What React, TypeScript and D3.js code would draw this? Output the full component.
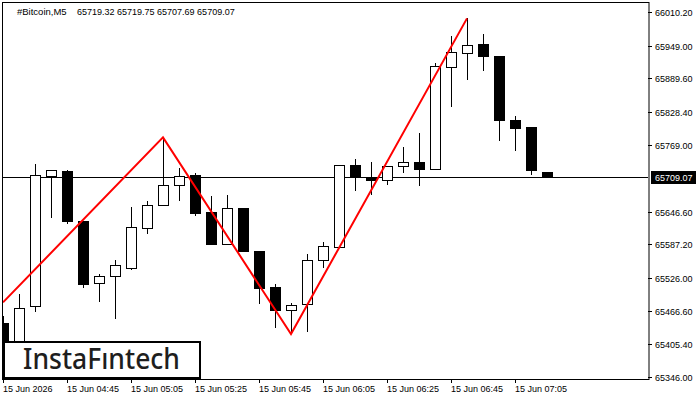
import * as d3 from 'd3';
import { useEffect, useRef } from 'react';

const TITLE_NAME = '#Bitcoin,M5';
const TITLE_VALUES = '65719.32 65719.75 65707.69 65709.07';

// one row per M5 candle, oldest first
const OPENS = [
  65443.5, 65400.0, 65475.7, 65712.3, 65721.4, 65630.4, 65516.3, 65530.3, 65544.9, 65617.7,
  65659.6, 65695.9, 65713.4, 65646.8, 65587.8, 65652.8, 65575.8, 65509.0, 65467.7, 65478.7,
  65559.5, 65583.1, 65732.3, 65710.5, 65705.0, 65730.5, 65736.5, 65724.3, 65910.0, 65935.4,
  65952.5, 65930.7, 65814.2, 65800.2, 65719.32
];
const HIGHS = [
  65457.6, 65496.9, 65733.4, 65723.2, 65723.2, 65630.4, 65532.7, 65559.5, 65654.6, 65665.6,
  65782.0, 65726.2, 65716.5, 65674.7, 65676.5, 65652.8, 65575.8, 65515.1, 65479.9, 65569.7,
  65590.9, 65732.3, 65742.0, 65737.1, 65730.5, 65763.8, 65789.3, 65918.0, 65965.8, 65998.6,
  65969.5, 65930.7, 65820.2, 65800.2, 65719.75
];
const LOWS = [
  65385.0, 65390.0, 65464.8, 65635.2, 65624.2, 65507.8, 65483.0, 65451.4, 65540.5, 65606.0,
  65659.6, 65666.8, 65638.8, 65586.8, 65587.8, 65575.8, 65478.7, 65435.0, 65424.1, 65427.7,
  65544.2, 65583.1, 65684.3, 65677.7, 65695.2, 65717.1, 65693.4, 65724.3, 65837.2, 65886.3,
  65902.1, 65775.3, 65757.1, 65714.1, 65707.69
];
const CLOSES = [
  65395.0, 65472.1, 65713.4, 65723.2, 65629.7, 65515.8, 65530.3, 65550.4, 65619.5, 65659.6,
  65695.9, 65712.3, 65644.3, 65587.8, 65652.8, 65575.8, 65507.8, 65467.7, 65477.6, 65559.5,
  65583.7, 65732.3, 65709.8, 65704.3, 65730.5, 65737.8, 65724.3, 65912.5, 65936.7, 65950.7,
  65930.0, 65813.5, 65799.0, 65722.5, 65709.07
];

const LAST_PRICE = 65709.07;

// double bottom / double top zig-zag (candle index, price)
const PATTERN_INDEX = [0, 10, 18, 29];
const PATTERN_PRICE = [65481.8, 65782.0, 65424.1, 65998.6];

const PRICE_TICKS = [
  66010.2, 65949.0, 65889.6, 65828.4, 65769.0, 65646.6, 65587.2, 65526.0, 65466.6, 65405.4, 65346.0
];
const TIME_TICK_INDEX = [0, 4, 8, 12, 16, 20, 24, 28, 32];
const TIME_TICK_LABELS = [
  '15 Jun 2026', '15 Jun 04:45', '15 Jun 05:05', '15 Jun 05:25', '15 Jun 05:45',
  '15 Jun 06:05', '15 Jun 06:25', '15 Jun 06:45', '15 Jun 07:05'
];

const FONT = 'Tahoma, "Liberation Sans", Arial, sans-serif';

function App() {
  const svgRef = useRef<SVGSVGElement>(null);

  useEffect(() => {
    if (!svgRef.current) { return; }
    const svg = d3.select(svgRef.current);
    svg.selectAll('*').remove();

    const frame = { left: 3, top: 3, right: 648, bottom: 379 };

    const x = d3.scaleLinear().domain([0, 34]).range([3, 547]);
    const y = d3.scaleLinear().domain([65346.0, 66010.2]).range([377, 12]);

    const defs = svg.append('defs');
    defs.append('clipPath').attr('id', 'plot-clip')
      .append('rect')
      .attr('x', frame.left)
      .attr('y', frame.top)
      .attr('width', frame.right - frame.left)
      .attr('height', frame.bottom - frame.top);

    // frame
    svg.append('rect')
      .attr('x', 2.5).attr('y', 2.5)
      .attr('width', frame.right - 2 + 0.5).attr('height', frame.bottom - 2)
      .attr('fill', '#fff')
      .attr('stroke', '#000');

    const plot = svg.append('g').attr('clip-path', 'url(#plot-clip)');

    // current price line (behind candles)
    const lastY = Math.round(y(LAST_PRICE)) + 0.5;
    plot.append('line')
      .attr('x1', frame.left).attr('x2', frame.right)
      .attr('y1', lastY).attr('y2', lastY)
      .attr('stroke', '#000');

    // candles
    OPENS.forEach((open, i) => {
      const close = CLOSES[i];
      const cx = Math.round(x(i));
      const bull = close >= open;
      plot.append('line')
        .attr('x1', cx + 0.5).attr('x2', cx + 0.5)
        .attr('y1', Math.round(y(HIGHS[i]))).attr('y2', Math.round(y(LOWS[i])))
        .attr('stroke', '#000');
      const top = Math.round(y(Math.max(open, close))) + 0.5;
      const bottom = Math.round(y(Math.min(open, close))) + 0.5;
      plot.append('rect')
        .attr('x', cx - 4.5)
        .attr('y', top)
        .attr('width', 10)
        .attr('height', Math.max(bottom - top, 1))
        .attr('fill', bull ? '#fff' : '#000')
        .attr('stroke', '#000');
    });

    // pattern
    const line = d3.line<number>()
      .x((d) => x(d))
      .y((d, i) => y(PATTERN_PRICE[i]));
    plot.append('path')
      .attr('d', line(PATTERN_INDEX))
      .attr('fill', 'none')
      .attr('stroke', '#ff0000')
      .attr('stroke-width', 2);

    // price axis
    PRICE_TICKS.forEach((p) => {
      const ty = Math.round(y(p)) + 0.5;
      svg.append('line')
        .attr('x1', frame.right).attr('x2', frame.right + 4)
        .attr('y1', ty).attr('y2', ty)
        .attr('stroke', '#000');
      svg.append('text')
        .attr('x', 655).attr('y', ty)
        .attr('dy', '0.35em')
        .attr('font-family', FONT)
        .attr('font-size', 9)
        .attr('fill', '#000')
        .text(p.toFixed(2));
    });

    svg.append('rect')
      .attr('x', 651).attr('y', lastY - 6.5)
      .attr('width', 45).attr('height', 13)
      .attr('fill', '#000');
    svg.append('text')
      .attr('x', 655).attr('y', lastY)
      .attr('dy', '0.35em')
      .attr('font-family', FONT)
      .attr('font-size', 9)
      .attr('fill', '#fff')
      .text(LAST_PRICE.toFixed(2));

    // time axis
    TIME_TICK_INDEX.forEach((idx, k) => {
      const tx = Math.round(x(idx)) + 0.5;
      svg.append('line')
        .attr('x1', tx).attr('x2', tx)
        .attr('y1', frame.bottom).attr('y2', frame.bottom + 4)
        .attr('stroke', '#000');
      svg.append('text')
        .attr('x', tx - 0.5).attr('y', 392)
        .attr('font-family', FONT)
        .attr('font-size', 9)
        .attr('fill', '#000')
        .text(TIME_TICK_LABELS[k]);
    });

    // title
    svg.append('text')
      .attr('x', 17).attr('y', 15)
      .attr('font-family', FONT)
      .attr('font-size', 9.5)
      .attr('fill', '#000')
      .text(TITLE_NAME);
    svg.append('text')
      .attr('x', 77).attr('y', 15)
      .attr('font-family', FONT)
      .attr('font-size', 9)
      .attr('fill', '#000')
      .text(TITLE_VALUES);

    // logo
    svg.append('rect')
      .attr('x', 4).attr('y', 342)
      .attr('width', 196).attr('height', 36)
      .attr('fill', '#fff')
      .attr('stroke', '#000')
      .attr('stroke-width', 2);
    svg.append('text')
      .attr('x', 23).attr('y', 369)
      .attr('font-family', '"Noto Sans", "Open Sans", sans-serif')
      .attr('font-weight', 500)
      .attr('font-size', 28)
      .attr('fill', '#1e1e1e')
      .attr('textLength', 157)
      .attr('lengthAdjust', 'spacingAndGlyphs')
      .text('InstaF\u0131ntech');
  }, []);

  return (
    <svg
      ref={svgRef}
      width={700}
      height={400}
      style={{ position: 'absolute', left: 0, top: 0, display: 'block', background: '#fff' }}
    />
  );
}

export default App;
